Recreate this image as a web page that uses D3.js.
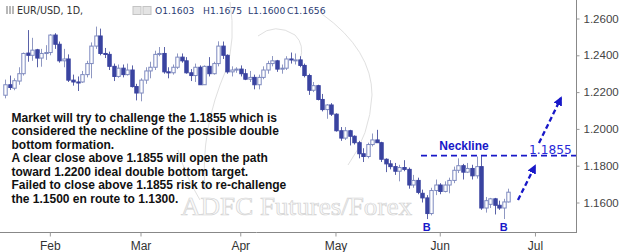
<!DOCTYPE html>
<html><head><meta charset="utf-8">
<script src="https://cdn.jsdelivr.net/npm/d3@7"></script>
<style>html,body{margin:0;padding:0;background:#fff;}svg{display:block;}</style>
</head><body><svg id="c" width="625" height="252"></svg>
<script>
// ---- data (EUR/USD daily) ----
const dates = ["01-18","01-19","01-22","01-23","01-24","01-25","01-26","01-29","01-30","01-31",
"02-01","02-02","02-05","02-06","02-07","02-08","02-09","02-12","02-13","02-14","02-15","02-16","02-19","02-20","02-21","02-22","02-23","02-26","02-27","02-28",
"03-01","03-02","03-05","03-06","03-07","03-08","03-09","03-12","03-13","03-14","03-15","03-16","03-19","03-20","03-21","03-22","03-23","03-26","03-27","03-28","03-29","03-30",
"04-02","04-03","04-04","04-05","04-06","04-09","04-10","04-11","04-12","04-13","04-16","04-17","04-18","04-19","04-20","04-23","04-24","04-25","04-26","04-27","04-30",
"05-01","05-02","05-03","05-04","05-07","05-08","05-09","05-10","05-11","05-14","05-15","05-16","05-17","05-18","05-21","05-22","05-23","05-24","05-25","05-28","05-29","05-30","05-31",
"06-01","06-04","06-05","06-06","06-07","06-08","06-11","06-12","06-13","06-14","06-15","06-18","06-19","06-20","06-21","06-22"];
const futureDates = ["06-25","06-26","06-27","06-28","06-29","07-02","07-03","07-04","07-05","07-06","07-09","07-10","07-11","07-12"];
const open = [1.2183,1.2240,1.2221,1.2260,1.2300,1.2412,1.2400,1.2430,1.2385,1.2410,
1.2415,1.2510,1.2460,1.2370,1.2380,1.2265,1.2255,1.2255,1.2295,1.2355,1.2450,1.2505,1.2410,1.2405,1.2340,1.2285,1.2330,1.2295,1.2320,1.2230,
1.2195,1.2265,1.2315,1.2335,1.2405,1.2410,1.2310,1.2305,1.2335,1.2390,1.2370,1.2305,1.2290,1.2335,1.2240,1.2340,1.2300,1.2355,1.2450,1.2400,1.2310,1.2320,
1.2325,1.2300,1.2270,1.2280,1.2240,1.2280,1.2320,1.2355,1.2370,1.2325,1.2330,1.2380,1.2375,1.2375,1.2345,1.2290,1.2210,1.2235,1.2160,1.2105,1.2130,
1.2080,1.1990,1.1950,1.1990,1.1960,1.1925,1.1865,1.1850,1.1915,1.1940,1.1925,1.1835,1.1810,1.1795,1.1770,1.1790,1.1780,1.1695,1.1720,1.1650,1.1625,1.1540,1.1665,
1.1695,1.1660,1.1695,1.1720,1.1775,1.1800,1.1765,1.1785,1.1745,1.1795,1.1570,1.1590,1.1620,1.1585,1.1570,1.1603];
const high = [1.2268,1.2290,1.2275,1.2335,1.2415,1.2537,1.2495,1.2435,1.2435,1.2455,
1.2515,1.2520,1.2475,1.2435,1.2405,1.2295,1.2285,1.2315,1.2370,1.2470,1.2556,1.2545,1.2440,1.2420,1.2355,1.2350,1.2350,1.2355,1.2345,1.2245,
1.2275,1.2335,1.2365,1.2425,1.2445,1.2445,1.2335,1.2350,1.2410,1.2410,1.2390,1.2325,1.2355,1.2345,1.2345,1.2390,1.2365,1.2476,1.2475,1.2405,1.2340,1.2335,
1.2345,1.2325,1.2315,1.2295,1.2295,1.2340,1.2370,1.2396,1.2375,1.2350,1.2395,1.2415,1.2410,1.2395,1.2355,1.2300,1.2255,1.2240,1.2190,1.2135,1.2140,
1.2085,1.2010,1.2010,1.1995,1.1965,1.1935,1.1895,1.1925,1.1975,1.1995,1.1930,1.1840,1.1830,1.1815,1.1805,1.1830,1.1790,1.1750,1.1735,1.1670,1.1640,1.1680,1.1725,
1.1705,1.1715,1.1735,1.1795,1.1840,1.1810,1.1815,1.1805,1.1850,1.1852,1.1630,1.1625,1.1625,1.1610,1.1620,1.1675];
const low = [1.2166,1.2212,1.2210,1.2240,1.2290,1.2365,1.2370,1.2335,1.2338,1.2375,
1.2400,1.2435,1.2360,1.2335,1.2255,1.2235,1.2206,1.2250,1.2280,1.2275,1.2435,1.2400,1.2385,1.2320,1.2260,1.2278,1.2280,1.2290,1.2225,1.2155,
1.2150,1.2245,1.2275,1.2320,1.2395,1.2300,1.2275,1.2295,1.2325,1.2360,1.2300,1.2260,1.2255,1.2240,1.2240,1.2285,1.2295,1.2340,1.2380,1.2300,1.2285,1.2305,
1.2285,1.2265,1.2255,1.2215,1.2215,1.2270,1.2300,1.2340,1.2310,1.2300,1.2320,1.2355,1.2350,1.2335,1.2280,1.2185,1.2200,1.2155,1.2095,1.2055,1.2070,
1.1985,1.1935,1.1940,1.1910,1.1915,1.1840,1.1820,1.1840,1.1905,1.1925,1.1820,1.1765,1.1780,1.1750,1.1715,1.1770,1.1675,1.1680,1.1645,1.1600,1.1510,1.1530,1.1640,
1.1645,1.1655,1.1650,1.1705,1.1760,1.1725,1.1760,1.1725,1.1730,1.1560,1.1545,1.1570,1.1535,1.1560,1.1510,1.1600];
const close = [1.2240,1.2225,1.2262,1.2300,1.2410,1.2400,1.2428,1.2385,1.2410,1.2415,
1.2510,1.2460,1.2370,1.2380,1.2265,1.2255,1.2250,1.2295,1.2355,1.2450,1.2505,1.2410,1.2405,1.2340,1.2285,1.2330,1.2295,1.2320,1.2230,1.2195,
1.2265,1.2315,1.2335,1.2405,1.2410,1.2310,1.2305,1.2335,1.2390,1.2370,1.2305,1.2290,1.2335,1.2240,1.2340,1.2300,1.2355,1.2450,1.2400,1.2310,1.2320,1.2325,
1.2300,1.2270,1.2280,1.2240,1.2280,1.2320,1.2355,1.2370,1.2325,1.2330,1.2380,1.2375,1.2375,1.2345,1.2290,1.2210,1.2235,1.2160,1.2105,1.2130,1.2080,
1.1990,1.1950,1.1990,1.1960,1.1925,1.1865,1.1850,1.1915,1.1940,1.1925,1.1835,1.1810,1.1795,1.1770,1.1790,1.1780,1.1695,1.1720,1.1655,1.1625,1.1540,1.1665,1.1695,
1.1660,1.1695,1.1720,1.1775,1.1800,1.1765,1.1785,1.1745,1.1795,1.1570,1.1610,1.1620,1.1585,1.1570,1.1603,1.1656];
const yTicks = [1.16,1.18,1.20,1.22,1.24,1.26];
const monthTickDates = ["02-01","03-01","04-02","05-01","06-01","07-02"];
const monthTickLabels = ["Feb","Mar","Apr","May","Jun","Jul"];
const neckline = 1.1855;
const bottoms = ["05-29","06-21"];
const noteLines = [
 "Market will try to challenge the 1.1855 which is",
 "considered the neckline of the possible double",
 "bottom formation.",
 "A clear close above 1.1855 will open the path",
 "toward 1.2200 ideal double bottom target.",
 "Failed to close above 1.1855 risk to re-challenge",
 "the 1.1500 en route to 1.1300."];
const header = "EUR/USD, 1D,";
const ohlcLabels = ["O","H","L","C"];
const ohlcValues = ["1.1603","1.1675","1.1600","1.1656"];

// ---- layout ----
const svg = d3.select("#c");
const plotR = 576, plotB = 232;
const allSlots = dates.concat(futureDates);
const x = d3.scaleBand().domain(allSlots).range([2.73, 574.0]).padding(0);
const cx = d => x(d) + x.bandwidth()/2;
const y = d3.scaleLinear().domain([1.16, 1.26]).range([202.5, 18.5]);
const BLUE = "#1818c8";

// watermark
const wm = svg.append("g").attr("fill","none").attr("stroke","#e0e0e0").attr("stroke-width",1);
wm.append("path").attr("d","M230,2 Q236,40 226,70 Q200,130 205,190");
wm.append("path").attr("d","M322,14 Q372,50 372,95 Q370,135 348,165");
wm.append("path").attr("d","M258,36 Q275,22 295,35 Q305,45 300,60");
wm.append("path").attr("d","M178,150 Q185,175 200,200");
svg.append("text").attr("x",181).attr("y",215).attr("font-family","'Liberation Serif','DejaVu Serif',serif")
  .attr("font-size",26).attr("fill","#fafafa").attr("stroke","#d4d4d4").attr("stroke-width",0.7)
  .attr("textLength",231).attr("lengthAdjust","spacingAndGlyphs").text("ADFC Futures/Forex");

// axes lines
svg.append("line").attr("x1",0).attr("x2",plotR+1).attr("y1",plotB+0.5).attr("y2",plotB+0.5).attr("stroke","#888").attr("stroke-width",1);
svg.append("line").attr("x1",plotR+0.5).attr("x2",plotR+0.5).attr("y1",0).attr("y2",plotB+1).attr("stroke","#888").attr("stroke-width",1);

const ya = svg.append("g").attr("transform",`translate(${plotR+0.5},0)`)
  .call(d3.axisRight(y).tickValues(yTicks).tickFormat(d3.format(".4f")).tickSize(3).tickPadding(4));
ya.select(".domain").remove();
ya.selectAll("line").attr("stroke","#999");
ya.selectAll("text").attr("font-family","'Liberation Sans',Arial,sans-serif").attr("font-size",11.5).attr("fill","#444");

const xa = svg.append("g").attr("transform",`translate(0,${plotB+0.5})`)
  .call(d3.axisBottom(x).tickValues(monthTickDates).tickFormat((d,i)=>monthTickLabels[i]).tickSize(4).tickPadding(4.5));
xa.select(".domain").remove();
xa.selectAll(".tick").attr("transform", d => `translate(${cx(d)},0)`);
xa.selectAll("line").attr("stroke","#999");
xa.selectAll("text").attr("font-family","'Liberation Sans',Arial,sans-serif").attr("font-size",12).attr("fill","#333");

// candles
const bars = dates.map((d,i)=>({d,o:open[i],h:high[i],l:low[i],c:close[i]}));
const bw = 3.4;
const g = svg.append("g");
g.selectAll("line.wick").data(bars).join("line").attr("class","wick")
  .attr("x1",b=>Math.round(cx(b.d))+0.5).attr("x2",b=>Math.round(cx(b.d))+0.5)
  .attr("y1",b=>y(b.h)).attr("y2",b=>y(b.l))
  .attr("stroke",b=>b.c>=b.o?"#8f98c2":"#5a62a8").attr("stroke-width",1);
g.selectAll("rect.body").data(bars).join("rect").attr("class","body")
  .attr("x",b=>Math.round(cx(b.d))+0.5-bw/2).attr("width",bw)
  .attr("y",b=>y(Math.max(b.o,b.c))).attr("height",b=>Math.max(1,Math.abs(y(b.o)-y(b.c))))
  .attr("fill",b=>b.c>=b.o?"#ffffff":"#3a43a0")
  .attr("stroke",b=>b.c>=b.o?"#7d89bf":"#3a43a0").attr("stroke-width",1);

// header
svg.append("g").attr("fill","#b8b8b8").selectAll("rect").data([0,1,2]).join("rect")
  .attr("x",(d)=>6+d*3).attr("y",6).attr("width",2).attr("height",8);
svg.append("text").attr("x",17).attr("y",14).attr("font-family","'DejaVu Sans',Verdana,sans-serif")
  .attr("font-size",9.6).attr("fill","#333").text(header);
svg.append("g").selectAll("rect").data([133,143]).join("rect").attr("x",d=>d).attr("y",6.5).attr("width",8).attr("height",8)
  .attr("fill","#e4e4e4").attr("stroke","#c4c4c4");
const ohlcX = [155,203,248,287];
const ht = svg.append("g").attr("font-family","'DejaVu Sans',Verdana,sans-serif").attr("font-size",9.2).attr("fill","#2a3b72");
ohlcLabels.forEach((l,i)=>{ ht.append("text").attr("x",ohlcX[i]).attr("y",14).text(l+ohlcValues[i]); });

// note text
const nt = svg.append("g").attr("font-family","'Liberation Sans',Arial,sans-serif").attr("font-weight","bold")
  .attr("font-size",12).attr("fill","#111");
noteLines.forEach((t,i)=>nt.append("text").attr("x",11.5).attr("y",121.5+i*13.5).text(t));

// neckline
svg.append("line").attr("x1",421).attr("x2",plotR).attr("y1",y(neckline)).attr("y2",y(neckline))
  .attr("stroke",BLUE).attr("stroke-width",1.6).attr("stroke-dasharray","6,4");
svg.append("text").attr("x",464).attr("y",150).attr("text-anchor","middle").attr("font-family","'Liberation Sans',Arial,sans-serif")
  .attr("font-weight","bold").attr("font-size",12).attr("fill",BLUE).text("Neckline");
svg.append("text").attr("x",529).attr("y",y(neckline)-1.5).attr("font-family","'DejaVu Sans',Verdana,sans-serif")
  .attr("font-size",12.2).attr("fill","#2a2ad8").text(d3.format(".4f")(neckline));

// arrows
const defs = svg.append("defs");
defs.append("marker").attr("id","ah").attr("viewBox","0 0 10 10").attr("refX",8).attr("refY",5)
  .attr("markerWidth",4).attr("markerHeight",4).attr("orient","auto")
  .append("path").attr("d","M0,0 L10,5 L0,10 z").attr("fill",BLUE);
[[518,200,535,166],[539,143,561,98]].forEach(a=>{
  svg.append("line").attr("x1",a[0]).attr("y1",a[1]).attr("x2",a[2]).attr("y2",a[3])
    .attr("stroke",BLUE).attr("stroke-width",2.3).attr("stroke-dasharray","5,3").attr("marker-end","url(#ah)");
});

// B labels
svg.append("g").selectAll("text").data(bottoms).join("text")
  .attr("x",d=>cx(d)).attr("y",231).attr("text-anchor","middle")
  .attr("font-family","'Liberation Sans',Arial,sans-serif").attr("font-weight","bold").attr("font-size",11)
  .attr("fill",BLUE).text("B");
</script></body></html>
